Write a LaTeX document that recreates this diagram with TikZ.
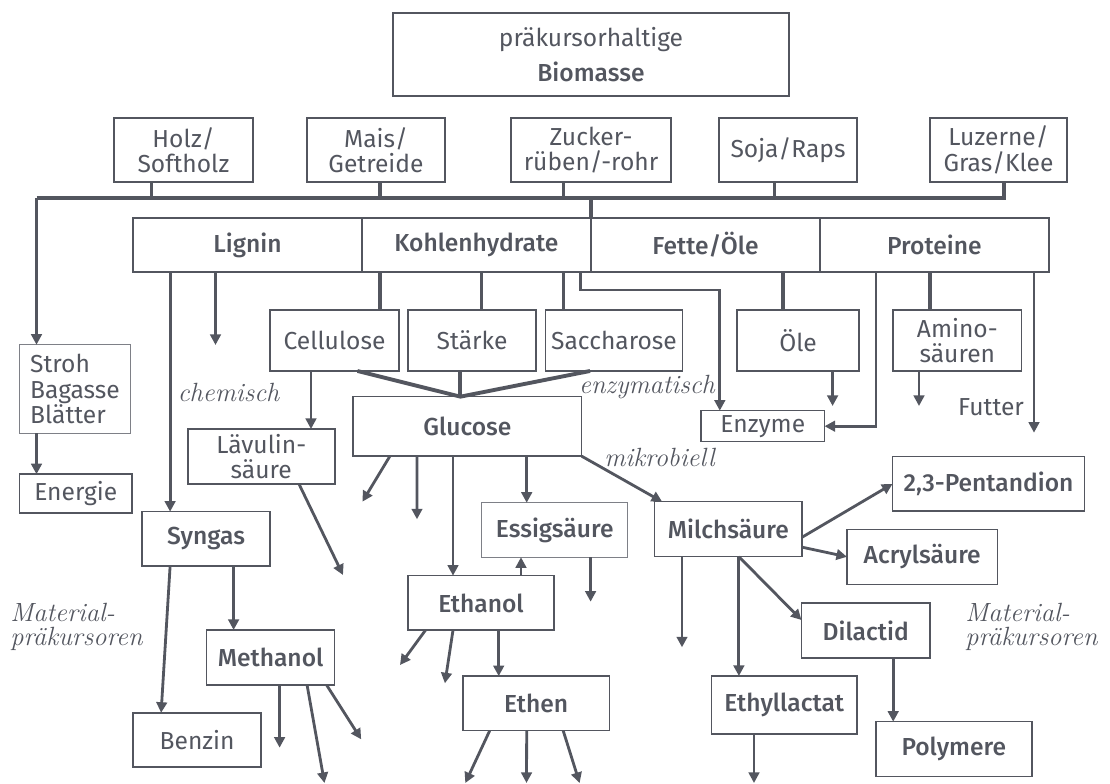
\documentclass[tikz,border=0pt]{standalone}
\usepackage{fontspec}
\setsansfont{Fira Sans}[BoldFont={Fira Sans Medium}]
\usetikzlibrary{positioning,arrows.meta}
\definecolor{ink}{HTML}{53565F}

\tikzset{
  box/.style={draw=ink, line width=0.9pt, outer sep=0pt, inner sep=1pt, align=center,
    text=ink, font=\sffamily\fontsize{14}{14.5}\selectfont},
  mbox/.style={box, font=\sffamily\bfseries\fontsize{14}{14.5}\selectfont},
  thinbox/.style={line width=0.5pt, draw=ink!75},
  bar/.style={draw=ink, line width=2.2pt},
  arr/.style={draw=ink, line width=1.6pt, -{Triangle[length=6pt,width=6pt]}},
  note/.style={text=ink, inner sep=0pt, align=left, font=\itshape\fontsize{15}{13.5}\selectfont},
}

\begin{document}
\begin{tikzpicture}[x=0.02cm, y=-0.02cm]
  \useasboundingbox (0,0) rectangle (1110,784);

  % Biomasse
  \node[box, minimum width=7.92cm, minimum height=1.66cm] (bio) at (591,54.5)
    {präkursorhaltige\\[5pt]\textbf{Biomasse}};
  \node[box, minimum width=2.78cm, minimum height=1.28cm] (holz) at (183.5,150) {Holz/\\Softholz};
  \node[box, minimum width=2.76cm, minimum height=1.28cm] (mais) at (376,150) {Mais/\\Getreide};
  \node[box, minimum width=3.2cm, minimum height=1.28cm] (zucker) at (591,150) {Zucker-\\rüben/-rohr};
  \node[box, minimum width=2.76cm, minimum height=1.28cm] (soja) at (788,150) {Soja/Raps};
  \node[box, minimum width=2.74cm, minimum height=1.28cm] (luz) at (998.5,150) {Luzerne/\\Gras/Klee};

  % Inhaltsstoffe
  \node[mbox, minimum width=4.58cm, minimum height=1.08cm] (lignin) at (247.5,245) {Lignin};
  \node[mbox, minimum width=4.58cm, minimum height=1.08cm, right=0pt of lignin] (kohlen) {Kohlenhydrate};
  \node[mbox, minimum width=4.58cm, minimum height=1.08cm, right=0pt of kohlen] (fette) {Fette/Öle};
  \node[mbox, minimum width=4.58cm, minimum height=1.08cm, right=0pt of fette] (proteine) {Proteine};

  \node[box, minimum width=2.58cm, minimum height=1.22cm] (cell) at (334.5,340.5) {Cellulose};
  \node[box, minimum width=2.56cm, minimum height=1.22cm] (staerke) at (472,340.5) {Stärke};
  \node[box, minimum width=2.74cm, minimum height=1.22cm] (sacch) at (614,340.5) {Saccharose};
  \node[box, minimum width=2.44cm, minimum height=1.22cm] (oele) at (798,340.5) {Öle};
  \node[box, minimum width=2.57cm, minimum height=1.22cm] (amino) at (957.3,340.5) {Amino-\\säuren};
  \node[box, minimum width=2.47cm, minimum height=0.62cm] (enzyme) at (762.8,426.2) {Enzyme};
  \node[text=ink, font=\sffamily\fontsize{14}{14.5}\selectfont] (futter) at (991,407) {Futter};

  \node[box, thinbox, align=left, minimum width=2.22cm, minimum height=1.77cm] (stroh) at (75,389)
    {Stroh\\Bagasse\\Blätter};
  \node[box, minimum width=2.25cm, minimum height=0.77cm] (energie) at (75.8,493.5) {Energie};

  % Produkte
  \node[box, minimum width=2.94cm, minimum height=1.1cm] (laev) at (261.25,456.5) {Lävulin-\\säure};
  \node[mbox, minimum width=4.57cm, minimum height=1.19cm] (glucose) at (467.4,426.4) {Glucose};
  \node[mbox, thinbox, minimum width=2.92cm, minimum height=1.09cm] (essig) at (554.7,530) {Essigsäure};
  \node[mbox, minimum width=2.93cm, minimum height=1.09cm] (ethanol) at (481,602.9) {Ethanol};
  \node[mbox, minimum width=2.93cm, minimum height=1.09cm] (ethen) at (536.2,703.4) {Ethen};
  \node[mbox, minimum width=2.56cm, minimum height=1.09cm] (syngas) at (206.1,538.9) {Syngas};
  \node[mbox, minimum width=2.56cm, minimum height=1.1cm] (methanol) at (270.6,657.5) {Methanol};
  \node[box, minimum width=2.56cm, minimum height=1.09cm] (benzin) at (197.1,740) {Benzin};
  \node[mbox, minimum width=2.95cm, minimum height=1.1cm] (milch) at (728.4,529.2) {Milchsäure};
  \node[mbox, minimum width=3.84cm, minimum height=1.09cm] (pent) at (988.5,483.9) {2,3-Pentandion};
  \node[mbox, minimum width=3.01cm, minimum height=1.1cm] (acryl) at (922.2,556.8) {Acrylsäure};
  \node[mbox, minimum width=2.57cm, minimum height=1.11cm] (dilactid) at (865.7,630.5) {Dilactid};
  \node[mbox, minimum width=3.12cm, minimum height=1.1cm] (polymere) at (953.8,749.2) {Polymere};
  \node[mbox, minimum width=2.91cm, minimum height=1.16cm] (ethyl) at (784.3,705) {Ethyllactat};

  % Beschriftungen
  \node[note] (chemisch) at (228.6,392.7) {chemisch};
  \node[note] (enzym) at (647,387) {enzymatisch};
  \node[note, anchor=west] (mikro) at (604,457) {mikrobiell};
  \node[note, anchor=west] (matL) at (10,627) {Material-\\präkursoren};
  \node[note, anchor=west] (matR) at (965,627) {Material-\\präkursoren};

  % Sammelschiene
  \coordinate (busL) at (36.5,198);
  \coordinate (busR) at (1004,198);
  \draw[bar] (busL) -- (busR) -- (busR |- luz.south);
  \draw[bar] ([xshift=-0.64cm]holz.south) coordinate (s1) -- (s1 |- busL);
  \draw[bar] ([xshift=0.08cm]mais.south) coordinate (s2) -- (s2 |- busL);
  \draw[bar] ([xshift=-0.55cm]zucker.south) coordinate (s3) -- (s3 |- busL);
  \draw[bar] ([xshift=-0.27cm]soja.south) coordinate (s4) -- (s4 |- busL);
  \draw[bar] (kohlen.north east) -- (kohlen.north east |- busL);
  \draw[arr] (busL) -- (busL |- stroh.north);
  \draw[arr] (busL |- stroh.south) -- (busL |- energie.north);

  % Stubs zu den Stoffen
  \draw[bar] ([xshift=0.91cm]cell.north) coordinate (k1) -- (k1 |- kohlen.south);
  \draw[bar] ([xshift=0.19cm]staerke.north) coordinate (k2) -- (k2 |- kohlen.south);
  \draw[bar] ([xshift=-1.01cm]sacch.north) coordinate (k3) -- (k3 |- kohlen.south);
  \draw[bar] ([xshift=-0.3cm]oele.north) coordinate (k4) -- (k4 |- fette.south);
  \draw[bar] ([xshift=-0.55cm]amino.north) coordinate (k5) -- (k5 |- proteine.south);

  % Lignin
  \coordinate (l1) at ([xshift=-0.72cm]syngas.north);
  \draw[arr] (l1 |- lignin.south) -- (l1);
  \coordinate (l2) at (215.5,345);
  \draw[arr] (l2 |- lignin.south) -- (l2);

  % Enzyme
  \coordinate (e1) at (580.7,290);
  \draw[arr] (e1 |- kohlen.south) -- (e1) -| ([xshift=-0.86cm]enzyme.north);
  \coordinate (p1) at (876,300);
  \draw[arr] (p1 |- proteine.south) |- (enzyme.east);
  \coordinate (o1) at (832.6,406);
  \draw[arr] (o1 |- oele.south) -- (o1);
  \coordinate (a1) at (919,406);
  \draw[arr] (a1 |- amino.south) -- (a1);
  \coordinate (f1) at (1034,432.7);
  \draw[arr] (f1 |- proteine.south) -- (f1);

  % Cellulose, Staerke, Saccharose zu Glucose
  \coordinate (g0) at ([xshift=-0.14cm]glucose.north);
  \draw[bar] ([xshift=0.46cm]cell.south) -- (g0) -- ([xshift=-0.48cm]sacch.south);
  \draw[bar] (g0) -- (g0 |- staerke.south);
  \coordinate (c1) at ([xshift=0.995cm]laev.north);
  \draw[arr] (c1 |- cell.south) -- (c1);
  \coordinate (c2) at (343,575);
  \draw[arr] ([xshift=0.755cm]laev.south) -- (c2);

  % Glucose
  \coordinate (g1) at (362.4,501.7);
  \coordinate (g2) at (417,519.3);
  \draw[arr] ([xshift=-1.55cm]glucose.south) -- (g1);
  \draw[arr] ([xshift=-1.01cm]glucose.south) -- (g2);
  \coordinate (g3) at ([xshift=-0.56cm]ethanol.north);
  \draw[arr] (g3 |- glucose.south) -- (g3);
  \coordinate (g4) at ([xshift=-0.56cm]essig.north);
  \draw[arr] (g4 |- glucose.south) -- (g4);
  \draw[arr] (glucose.south east) -- ([xshift=0.15cm]milch.north west);

  % Essigsaeure, Ethanol, Ethen
  \coordinate (es1) at (590.6,601.7);
  \draw[arr] (es1 |- essig.south) -- (es1);
  \coordinate (et0) at ([xshift=0.8cm]ethanol.north);
  \draw[arr] (et0) -- (et0 |- essig.south);
  \coordinate (et1) at (400,665);
  \coordinate (et2) at (444.9,683.3);
  \draw[arr] ([xshift=-1.11cm]ethanol.south) -- (et1);
  \draw[arr] ([xshift=-0.56cm]ethanol.south) -- (et2);
  \coordinate (et3) at ([xshift=-0.75cm]ethen.north);
  \draw[arr] (et3 |- ethanol.south) -- (et3);
  \coordinate (eh1) at (465.3,783);
  \coordinate (eh2) at (526.5,783);
  \coordinate (eh3) at (579.6,783);
  \draw[arr] ([xshift=-0.93cm]ethen.south) -- (eh1);
  \draw[arr] ([xshift=-0.19cm]ethen.south) -- (eh2);
  \draw[arr] ([xshift=0.54cm]ethen.south) -- (eh3);

  % Syngas, Methanol
  \draw[arr] ([xshift=-0.72cm]syngas.south) -- ([xshift=-0.72cm]benzin.north);
  \coordinate (m0) at ([xshift=-0.74cm]methanol.north);
  \draw[arr] (m0 |- syngas.south) -- (m0);
  \coordinate (m1) at (279.6,747.7);
  \coordinate (m2) at (324.5,783);
  \coordinate (m3) at (361.2,739.3);
  \draw[arr] (m1 |- methanol.south) -- (m1);
  \draw[arr] ([xshift=0.73cm]methanol.south) -- (m2);
  \draw[arr] ([xshift=1.12cm]methanol.south) -- (m3);

  % Milchsaeure
  \draw[arr] ([yshift=-0.16cm]milch.east) -- (pent.west);
  \draw[arr] ([yshift=-0.36cm]milch.east) -- (acryl.west);
  \coordinate (ms) at ([xshift=0.21cm]milch.south);
  \draw[arr] (ms) -- ([yshift=0.21cm]dilactid.west);
  \draw[arr] (ms) -- (ms |- ethyl.north);
  \coordinate (ms1) at (682,647.3);
  \draw[arr] (ms1 |- milch.south) -- (ms1);
  \draw[arr] ([xshift=0.55cm]dilactid.south) coordinate (d1) -- (d1 |- polymere.north);
  \coordinate (el1) at (754,783);
  \draw[arr] (el1 |- ethyl.south) -- (el1);
\end{tikzpicture}
\end{document}
